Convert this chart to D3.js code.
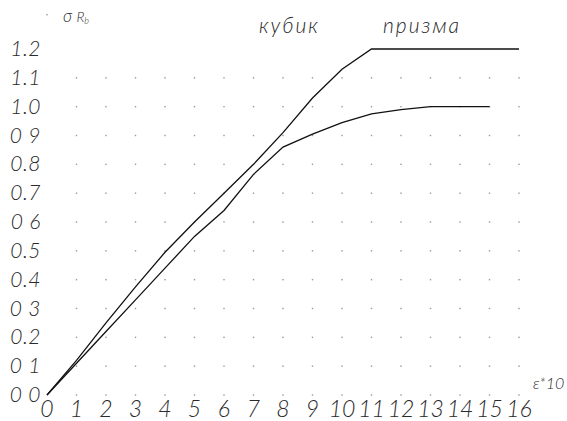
<!DOCTYPE html>
<html>
<head>
<meta charset="utf-8">
<script src="https://cdn.jsdelivr.net/npm/d3@7"></script>
<style>
  body { margin: 0; background: #fff; }
  text { font-family: "Lato", "DejaVu Sans", sans-serif; font-style: italic; font-weight: 300; fill: #2a2a2a; }
</style>
</head>
<body>
<svg id="chart" width="567" height="421"></svg>
<script>
// strain (x10^-3) and relative stress sigma/Rb
var strainCube = [0, 1, 2, 3, 4, 5, 6, 7, 8, 9, 10, 11, 16];
var stressCube = [0, 0.12, 0.25, 0.375, 0.495, 0.6, 0.7, 0.8, 0.91, 1.03, 1.13, 1.2, 1.2];
var strainPrism = [0, 1, 2, 3, 4, 5, 6, 7, 8, 9, 10, 11, 12, 13, 15];
var stressPrism = [0, 0.11, 0.22, 0.33, 0.44, 0.55, 0.64, 0.765, 0.86, 0.905, 0.945, 0.975, 0.99, 1.0, 1.0];
var xTicks = d3.range(0, 17);
var yTicks = [0, 0.1, 0.2, 0.3, 0.4, 0.5, 0.6, 0.7, 0.8, 0.9, 1.0, 1.1, 1.2];
var yTickLabels = ["0 0", "0 1", "0.2", "0 3", "0.4", "0.5", "0 6", "0.7", "0.8", "0 9", "1.0", "1.1", "1.2"];

var svg = d3.select("#chart");

var x = d3.scaleLinear().domain([0, 16]).range([47, 519]);
var y = d3.scaleLinear().domain([0, 1.2]).range([395, 49]);

// dotted grid
var dots = [];
xTicks.slice(1).forEach(function (a) {
  yTicks.slice(0, 12).forEach(function (b) {
    dots.push([a, b]);
  });
});
svg.selectAll(".dot")
  .data(dots)
  .enter()
  .append("rect")
  .attr("x", function (d) { return x(d[0]) - 0.7; })
  .attr("y", function (d) { return y(d[1]) - 0.7; })
  .attr("width", 1.4)
  .attr("height", 1.4)
  .attr("fill", "#999");

svg.append("rect").attr("x", x(0) - 0.7).attr("y", 14).attr("width", 1.4).attr("height", 1.4).attr("fill", "#999");

// y labels
svg.selectAll(".ylab")
  .data(yTicks)
  .enter()
  .append("text")
  .attr("x", 41)
  .attr("y", function (d) { return y(d) + 7; })
  .attr("text-anchor", "end")
  .style("font-size", "21px")
  .style("letter-spacing", "0.5px")
  .text(function (d, i) { return yTickLabels[i]; });

// x labels
svg.selectAll(".xlab")
  .data(xTicks)
  .enter()
  .append("text")
  .attr("x", function (d) { return x(d); })
  .attr("y", 417)
  .attr("text-anchor", "middle")
  .style("font-size", "23px")
  .text(function (d) { return d; });

var line = d3.line()
  .x(function (d) { return x(d[0]); })
  .y(function (d) { return y(d[1]); });

svg.append("path")
  .datum(d3.zip(strainCube, stressCube))
  .attr("fill", "none")
  .attr("stroke", "#111")
  .attr("stroke-width", 1.3)
  .attr("d", line);

svg.append("path")
  .datum(d3.zip(strainPrism, stressPrism))
  .attr("fill", "none")
  .attr("stroke", "#111")
  .attr("stroke-width", 1.3)
  .attr("d", line);

// titles
var sig = svg.append("text").attr("x", 63).attr("y", 22).style("font-size", "17px");
sig.append("tspan").text("σ ");
sig.append("tspan").style("font-size", "14px").text("R");
sig.append("tspan").style("font-size", "9px").attr("dy", 2).text("b");

svg.append("text").attr("x", 259).attr("y", 33).style("font-size", "21px").style("letter-spacing", "2px").text("кубик");
svg.append("text").attr("x", 383).attr("y", 33).style("font-size", "21px").style("letter-spacing", "2px").text("призма");

var eps = svg.append("text").attr("x", 533).attr("y", 389).style("font-size", "16px");
eps.append("tspan").text("ε*10");
</script>
</body>
</html>
